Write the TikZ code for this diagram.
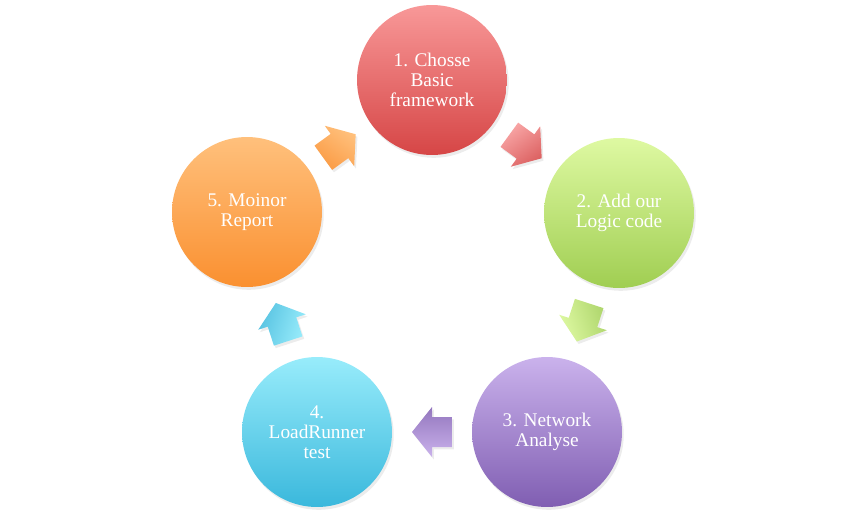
\documentclass[tikz,border=0pt]{standalone}
\usepackage{fontspec}
\setmainfont{Liberation Serif}
\usepackage{xcolor}
\usepackage{tikz}
\usetikzlibrary{positioning,calc,shadows}

\definecolor{redtop}{RGB}{248,152,152}
\definecolor{redbot}{RGB}{214,70,70}
\definecolor{greentop}{RGB}{222,249,162}
\definecolor{greenbot}{RGB}{160,206,82}
\definecolor{purpletop}{RGB}{202,178,236}
\definecolor{purplebot}{RGB}{128,94,178}
\definecolor{cyantop}{RGB}{152,236,251}
\definecolor{cyanbot}{RGB}{58,184,220}
\definecolor{orangetop}{RGB}{255,192,124}
\definecolor{orangebot}{RGB}{250,144,48}

\begin{document}
\begin{tikzpicture}[x=0.02cm, y=-0.02cm,
  stepnode/.style={circle, minimum size=3cm, inner sep=0pt, align=center, text=white, font=\fontsize{11}{11.3}\selectfont, drop shadow={shadow xshift=1pt, shadow yshift=-1.6pt, opacity=0.15}},
  flowarrow/.style={drop shadow={shadow xshift=1pt, shadow yshift=-1.4pt, opacity=0.15}}]
\useasboundingbox (0,0) rectangle (865,518);

\node[stepnode, top color=redtop, bottom color=redbot] at (432,80) (1) {1. Chosse\\Basic\\framework};
\node[stepnode, top color=greentop, bottom color=greenbot] at (619,213) (2) {2. Add our\\Logic code};
\node[stepnode, top color=purpletop, bottom color=purplebot] at (547,432) (3) {3. Network\\Analyse};
\node[stepnode, top color=cyantop, bottom color=cyanbot] at (317,432) (4) {4.\\LoadRunner\\test};
\node[stepnode, top color=orangetop, bottom color=orangebot] at (247,212) (5) {5. Moinor\\Report};

% block arrows between the steps
\begin{scope}[shift={($(1)!0.5!(2)$)}, rotate=-36]
\shade[flowarrow, top color=redtop!85!white, bottom color=redbot!85!white, shading angle=36] (-20,-15) -- (0,-15) -- (0,-25) -- (20,0) -- (0,25) -- (0,15) -- (-20,15) -- cycle;
\end{scope}
\begin{scope}[shift={($(2)!0.5!(3)$)}, rotate=-108]
\shade[flowarrow, top color=greentop, bottom color=greenbot!85!white, shading angle=108] (-20,-15) -- (0,-15) -- (0,-25) -- (20,0) -- (0,25) -- (0,15) -- (-20,15) -- cycle;
\end{scope}
\begin{scope}[shift={($(3)!0.5!(4)$)}, rotate=180]
\shade[flowarrow, top color=purpletop, bottom color=purplebot!85!white, shading angle=180] (-20,-15) -- (0,-15) -- (0,-25) -- (20,0) -- (0,25) -- (0,15) -- (-20,15) -- cycle;
\end{scope}
\begin{scope}[shift={($(4)!0.5!(5)$)}, rotate=108]
\shade[flowarrow, top color=cyantop, bottom color=cyanbot!85!white, shading angle=-108] (-20,-15) -- (0,-15) -- (0,-25) -- (20,0) -- (0,25) -- (0,15) -- (-20,15) -- cycle;
\end{scope}
\begin{scope}[shift={($(5)!0.5!(1)$)}, rotate=36]
\shade[flowarrow, top color=orangetop, bottom color=orangebot!90!white, shading angle=-36] (-20,-15) -- (0,-15) -- (0,-25) -- (20,0) -- (0,25) -- (0,15) -- (-20,15) -- cycle;
\end{scope}

\end{tikzpicture}
\end{document}
